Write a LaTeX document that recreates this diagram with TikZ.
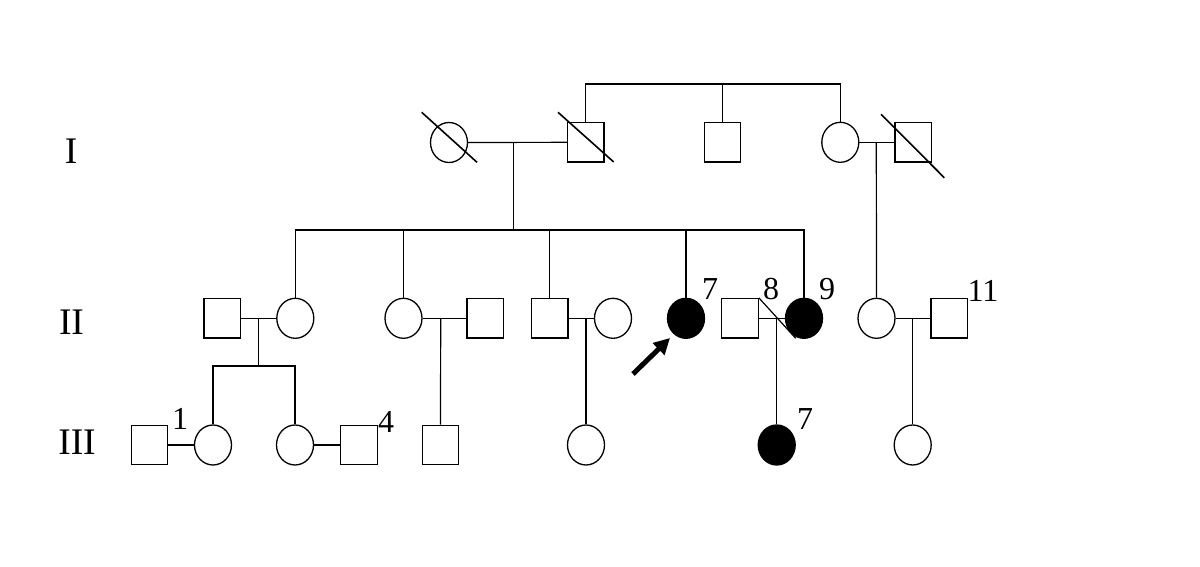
\documentclass[tikz,border=0pt]{standalone}
\usepackage{fontspec}
\setmainfont{Liberation Serif}
\usetikzlibrary{shapes.geometric,arrows.meta}
\begin{document}
\begin{tikzpicture}[x=1pt,y=-1pt,
  fem/.style={ellipse,draw,line width=1.3pt,fill=white,minimum width=37pt,minimum height=40pt,inner sep=0pt},
  mal/.style={rectangle,draw,line width=1.3pt,fill=white,minimum width=36.5pt,minimum height=39.5pt,inner sep=0pt},
  aff/.style={fill=black},
  ln/.style={line width=1.2pt},
  dead/.style={line width=1.6pt},
  gen/.style={font=\fontsize{37.5}{40}\selectfont,inner sep=0pt},
  num/.style={font=\fontsize{32}{34}\selectfont,inner sep=0pt}]
\useasboundingbox (0,0) rectangle (1200,567);
% generation labels
\node[gen] (gI) at (71,151) {I};
\node[gen] (gII) at (71.5,322) {II};
\node[gen] (gIII) at (77,442) {III};
% generation I
\node[fem] (i1) at (449,142.5) {};
\node[mal] (i2) at (585.7,142.3) {};
\node[mal] (i3) at (722.5,142.3) {};
\node[fem] (i4) at (840.3,142.3) {};
\node[mal] (i5) at (913.3,142.3) {};
% generation II
\node[mal] (ii1) at (222.2,318.3) {};
\node[fem] (ii2) at (295.3,318.3) {};
\node[fem] (ii3) at (403.5,318.3) {};
\node[mal] (ii4) at (485.3,318.3) {};
\node[mal] (ii5) at (549.7,318.3) {};
\node[fem] (ii6) at (613,318.3) {};
\node[fem,aff] (ii7) at (686,318.3) {};
\node[mal] (ii8) at (740,318.3) {};
\node[fem,aff] (ii9) at (804,318.3) {};
\node[fem] (ii10) at (876.5,318.3) {};
\node[mal] (ii11) at (949.3,318.3) {};
% generation III
\node[mal] (iii1) at (149.5,445) {};
\node[fem] (iii2) at (213,445) {};
\node[fem] (iii3) at (295,445) {};
\node[mal] (iii4) at (359,445) {};
\node[mal] (iii5) at (440.5,445) {};
\node[fem] (iii6) at (586,445) {};
\node[fem,aff] (iii7) at (776.7,445) {};
\node[fem] (iii8) at (912.7,445) {};
% number labels
\node[num] (l1) at (180,419) {1};
\node[num] (l4) at (386,422) {4};
\node[num] (l7) at (710,289) {7};
\node[num] (l8) at (771,289) {8};
\node[num] (l9) at (827,289) {9};
\node[num] (l11) at (983,291) {11};
\node[num] (l7b) at (805,419) {7};
% coordinates
\coordinate (top) at (0,84);
\coordinate (m1) at (513.3,142.3);
\coordinate (s1) at (513.3,230);
\coordinate (sib2) at (0,230);
\coordinate (m2) at (876.3,142.3);
\coordinate (m3) at (258.3,318.3);
\coordinate (s3) at (258.3,366);
\coordinate (sib3) at (0,366);
\coordinate (m4) at (440.7,318.3);
\coordinate (m5) at (586,318.3);
\coordinate (m6) at (776.7,318.3);
\coordinate (m7) at (912.7,318.3);
\begin{scope}[ln]
% gen I sibship
\draw (i2.north) -- (i2.north |- top) -- (i4.north |- top) -- (i4.north);
\draw (i3.north) -- (i3.north |- top);
% marriages
\draw (i1) -- (i2);
\draw (i4) -- (i5);
\draw (ii1) -- (ii2);
\draw (ii3) -- (ii4);
\draw (ii5) -- (ii6);
\draw (ii8) -- (ii9);
\draw (ii10) -- (ii11);
\draw (iii1) -- (iii2);
\draw (iii3) -- (iii4);
% descents
\draw (m1) -- (s1);
\draw (ii2.north) -- (ii2.north |- sib2) -- (ii9.north |- sib2) -- (ii9.north);
\draw (ii3.north) -- (ii3.north |- sib2);
\draw (ii5.north) -- (ii5.north |- sib2);
\draw (ii7.north) -- (ii7.north |- sib2);
\draw (m2) -- (ii10.north);
\draw (m3) -- (s3);
\draw (iii2.north) -- (iii2.north |- sib3) -- (iii3.north |- sib3) -- (iii3.north);
\draw (m4) -- (iii5.north);
\draw (m5) -- (iii6.north);
\draw (m6) -- (iii7.north);
\draw (m7) -- (iii8.north);
\end{scope}
% deceased marks
\draw[dead] (421.7,112.3) -- (477,162.3);
\draw[dead] (558,112.3) -- (613.7,162);
\draw[dead] (881,114.3) -- (944.3,177.7);
\draw[ln] (ii8.north east) -- (795.7,338.3);
% proband arrow
\coordinate (arrtail) at (633,374);
\coordinate (arrtip) at (670,338);
\draw[line width=5pt,-{Triangle[length=16pt,width=16pt]}] (arrtail) -- (arrtip);
\end{tikzpicture}
\end{document}
